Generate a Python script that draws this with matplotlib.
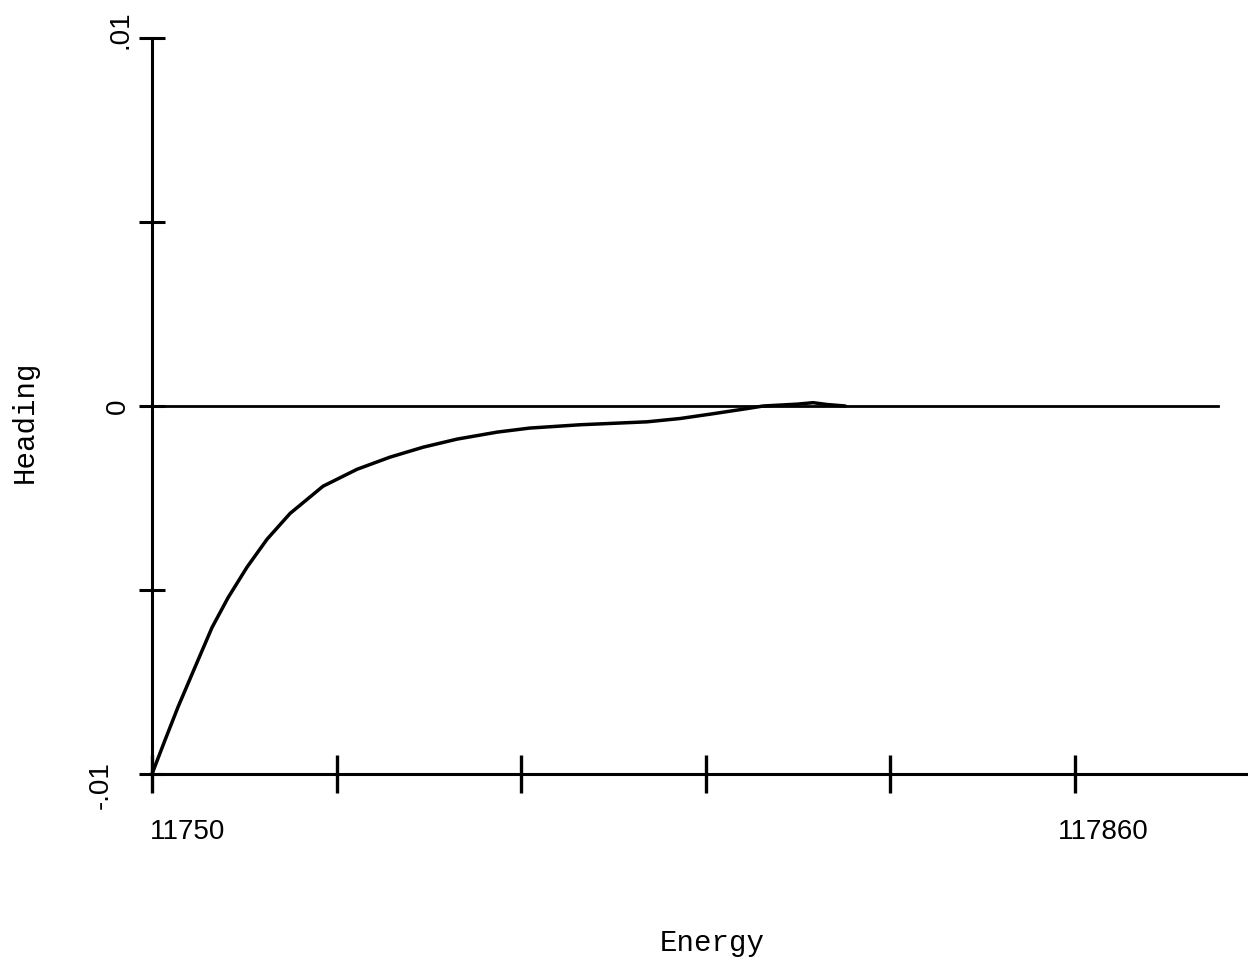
import matplotlib.pyplot as plt
import matplotlib.transforms as mtransforms
import numpy as np

# values
energy = [11750.0, 11751.55, 11753.10, 11755.12, 11757.15, 11759.06, 11761.32,
          11763.71, 11766.45, 11770.38, 11774.43, 11778.36, 11782.30, 11786.35,
          11791.12, 11795.0, 11801.01, 11808.99, 11812.93, 11816.86, 11820.91,
          11822.82, 11826.87, 11828.78, 11830.45, 11832.6]
heading = [-0.0100, -0.00908, -0.00818, -0.00710, -0.00602, -0.00521, -0.00438,
           -0.00362, -0.00292, -0.00218, -0.00172, -0.00139, -0.00112, -0.00090,
           -0.00071, -0.00060, -0.00051, -0.00043, -0.00034, -0.00021, -0.00007,
           0.00000, 0.00005, 0.00009, 0.00004, 0.0]

xticks = np.linspace(11750, 11860, 6)
xticklabels = ['11750', '', '', '', '', '117860']
yticks = [-0.01, -0.005, 0, 0.005, 0.01]
yticklabels = ['-.01', '', '0', '', '.01']

fig = plt.figure(figsize=(12.48, 9.64), dpi=100)
ax = fig.add_axes([152/1248, 190/964, 1 - 152/1248, 736/964])

ax.plot(energy, heading, color='k', lw=2.5, clip_on=False,
        solid_capstyle='round', solid_joinstyle='round')
ax.plot([11750, 11877], [0, 0], color='k', lw=2.0, clip_on=False)

ax.set_xlim(11750, 11880.6)
ax.set_ylim(-0.01, 0.01)

for s in ['top', 'right']:
    ax.spines[s].set_visible(False)
for s in ['left', 'bottom']:
    ax.spines[s].set_linewidth(2.2)

ax.set_xticks(xticks)
ax.set_xticklabels(xticklabels, fontfamily='Liberation Sans', fontsize=20)
ax.set_yticks(yticks)
ax.set_yticklabels(yticklabels, fontfamily='Liberation Sans', fontsize=20,
                   rotation=90, va='center')
ax.tick_params(axis='x', direction='inout', length=27, width=2.4, pad=19)
ax.tick_params(axis='y', direction='inout', length=19, width=2.2, pad=6)

# shift the typed labels a little, as on the scan
def shift(lbl, dx, dy):
    off = mtransforms.ScaledTranslation(dx / 100, dy / 100, fig.dpi_scale_trans)
    lbl.set_transform(lbl.get_transform() + off)

xl = ax.get_xticklabels()
shift(xl[0], 36, 0)
shift(xl[5], 28, 0)
yl = ax.get_yticklabels()
shift(yl[0], -17, -11)
shift(yl[4], 3, 8)

ax.set_xlabel('Energy', fontfamily='Liberation Mono', fontsize=21, va='center')
ax.xaxis.set_label_coords(0.511, -0.2296)
ax.set_ylabel('Heading', fontfamily='Liberation Mono', fontsize=21, va='center')
ax.yaxis.set_label_coords(-0.1159, 0.478)

fig.savefig('out.png', dpi=100)
